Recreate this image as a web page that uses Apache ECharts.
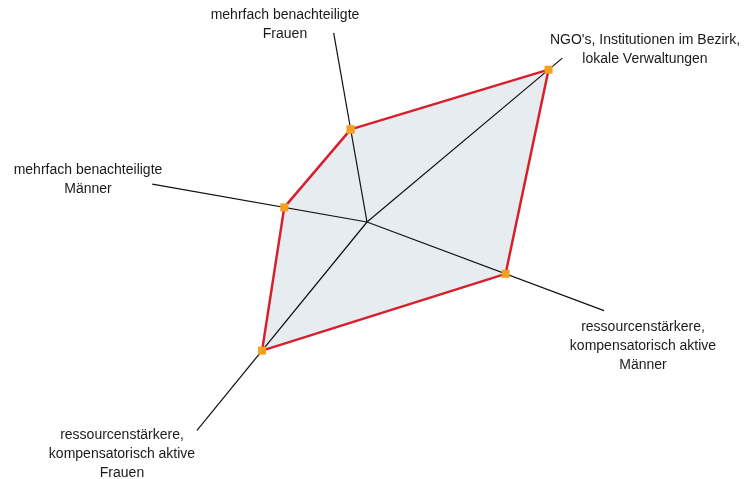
<!DOCTYPE html>
<html>
<head>
<meta charset="utf-8">
<script src="https://cdn.jsdelivr.net/npm/echarts@6/dist/echarts.min.js"></script>
<style>html,body{margin:0;padding:0;background:#fff}#c{width:749px;height:479px}</style>
</head>
<body>
<div id="c"></div>
<script>
// Axis names (order: clockwise from top)
const axisNames = [
  'mehrfach benachteiligte\nFrauen',
  "NGO's, Institutionen im Bezirk,\nlokale Verwaltungen",
  'ressourcenstärkere,\nkompensatorisch aktive\nMänner',
  'ressourcenstärkere,\nkompensatorisch aktive\nFrauen',
  'mehrfach benachteiligte\nMänner'
];
// Direction of each axis in degrees, clockwise from the top
const axisAngles = [350, 50, 110.5, 219.2, 280];
// Length of each drawn axis line (radius units)
const axisLengths = [192, 255, 253, 269, 218];
// Series values on each axis (radius units)
const values = [94, 237, 148, 166, 84];

const ring = values.map((v, i) => [v, axisAngles[i]]);
ring.push([values[0], axisAngles[0]]);

const axisSeries = axisAngles.map((a, i) => ({
  type: 'line', coordinateSystem: 'polar', silent: true, z: 2,
  symbol: 'none',
  lineStyle: { color: '#111', width: 1.2 },
  data: [[0, a], [axisLengths[i], a]]
}));

// label layout
const labelPos = [
  { x: 285, y: 5.5 },
  { x: 645, y: 30.5 },
  { x: 643, y: 317.5 },
  { x: 122, y: 425.5 },
  { x: 88, y: 160.5 }
];

const chart = echarts.init(document.getElementById('c'), null, { renderer: 'canvas' });
chart.setOption({
  animation: false,
  backgroundColor: '#fff',
  polar: { center: [367, 222], radius: 270 },
  angleAxis: { type: 'value', min: 0, max: 360, startAngle: 90, clockwise: true,
    show: false, axisLine: {show:false}, splitLine: {show:false}, axisLabel: {show:false}, axisTick: {show:false} },
  radiusAxis: { type: 'value', min: 0, max: 270, show: false,
    axisLine: {show:false}, splitLine: {show:false}, axisLabel: {show:false}, axisTick: {show:false} },
  series: [
    { type: 'line', coordinateSystem: 'polar', silent: true, z: 1, symbol: 'none',
      lineStyle: { width: 0, opacity: 0 },
      areaStyle: { color: '#e7ecf1', opacity: 1 },
      data: ring },
    ...axisSeries,
    { type: 'line', coordinateSystem: 'polar', silent: true, z: 3,
      symbol: 'rect', symbolSize: 8, showAllSymbol: true,
      itemStyle: { color: '#f6a01e' },
      lineStyle: { color: '#d7202c', width: 2.5 },
      data: ring }
  ],
  graphic: axisNames.map((t, i) => ({
    type: 'text', x: labelPos[i].x, y: labelPos[i].y, z: 10,
    style: { text: t, fill: '#1a1a1a', font: '14px "Liberation Sans", Arial, sans-serif',
      textAlign: 'center', textVerticalAlign: 'top', lineHeight: 19 }
  }))
});
</script>
</body>
</html>
